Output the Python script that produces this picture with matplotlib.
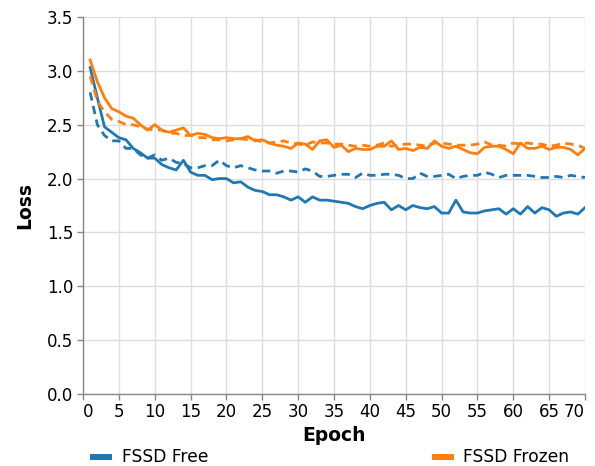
import matplotlib
matplotlib.use("Agg")
import matplotlib.pyplot as plt
import numpy as np

# epochs 1..70
epochs = list(range(1, 71))

free_train = [3.03, 2.75, 2.48, 2.43, 2.38, 2.36, 2.28, 2.24, 2.19, 2.19,
              2.13, 2.10, 2.08, 2.17, 2.06, 2.03, 2.03, 1.99, 2.00, 2.00,
              1.96, 1.97, 1.92, 1.89, 1.88, 1.85, 1.85, 1.83, 1.80, 1.83,
              1.78, 1.83, 1.80, 1.80, 1.79, 1.78, 1.77, 1.74, 1.72, 1.75,
              1.77, 1.78, 1.71, 1.75, 1.71, 1.75, 1.73, 1.72, 1.74, 1.68,
              1.68, 1.80, 1.69, 1.68, 1.68, 1.70, 1.71, 1.72, 1.67, 1.72,
              1.67, 1.74, 1.68, 1.73, 1.71, 1.65, 1.68, 1.69, 1.67, 1.73]

free_val = [2.80, 2.50, 2.40, 2.35, 2.35, 2.28, 2.28, 2.22, 2.19, 2.22,
            2.17, 2.19, 2.15, 2.14, 2.10, 2.10, 2.12, 2.12, 2.17, 2.12,
            2.10, 2.12, 2.10, 2.08, 2.07, 2.07, 2.05, 2.07, 2.07, 2.06,
            2.09, 2.07, 2.02, 2.02, 2.03, 2.04, 2.04, 2.01, 2.05, 2.03,
            2.03, 2.04, 2.04, 2.03, 2.00, 2.00, 2.05, 2.02, 2.02, 2.03,
            2.04, 2.00, 2.02, 2.03, 2.03, 2.06, 2.04, 2.01, 2.03, 2.03,
            2.03, 2.03, 2.02, 2.01, 2.01, 2.02, 2.01, 2.03, 2.02, 2.01]

frozen_train = [3.10, 2.90, 2.75, 2.65, 2.62, 2.58, 2.56, 2.50, 2.45, 2.50,
                2.45, 2.43, 2.45, 2.47, 2.40, 2.42, 2.41, 2.38, 2.37, 2.38,
                2.37, 2.37, 2.39, 2.35, 2.36, 2.33, 2.31, 2.30, 2.28, 2.33,
                2.32, 2.27, 2.35, 2.36, 2.29, 2.31, 2.25, 2.28, 2.27, 2.27,
                2.30, 2.30, 2.35, 2.27, 2.28, 2.26, 2.29, 2.28, 2.35, 2.30,
                2.28, 2.30, 2.27, 2.24, 2.23, 2.29, 2.30, 2.30, 2.27, 2.23,
                2.33, 2.28, 2.28, 2.30, 2.27, 2.29, 2.29, 2.27, 2.22, 2.28]

frozen_val = [2.95, 2.72, 2.62, 2.55, 2.53, 2.50, 2.50, 2.48, 2.46, 2.45,
              2.45, 2.42, 2.42, 2.40, 2.40, 2.38, 2.38, 2.36, 2.36, 2.35,
              2.36, 2.37, 2.36, 2.36, 2.34, 2.33, 2.34, 2.35, 2.33, 2.32,
              2.31, 2.34, 2.33, 2.33, 2.32, 2.32, 2.31, 2.30, 2.31, 2.30,
              2.31, 2.33, 2.30, 2.31, 2.32, 2.32, 2.31, 2.30, 2.33, 2.33,
              2.32, 2.31, 2.31, 2.31, 2.32, 2.34, 2.31, 2.31, 2.30, 2.33,
              2.32, 2.33, 2.32, 2.32, 2.30, 2.31, 2.33, 2.32, 2.31, 2.28]

azul = "#1f77b4"
naranja = "#ff7f0e"
gris = "#888888"

fig = plt.figure(figsize=(5.95, 4.66), dpi=100)
ax = fig.add_axes([83 / 595, 1 - 394 / 466, 502 / 595, 377 / 466])

ax.plot(epochs, free_train, '-', color=azul, linewidth=2, label="FSSD Free")
ax.plot(epochs, free_val, '--', color=azul, linewidth=2, dashes=(3, 2))
ax.plot(epochs, frozen_train, '-', color=naranja, linewidth=2, label="FSSD Frozen")
ax.plot(epochs, frozen_val, '--', color=naranja, linewidth=2, dashes=(3, 2))

ax.set_xlim(0, 70)
ax.set_ylim(0, 3.5)
ax.set_xticks(np.arange(0, 71, 5))
ax.set_yticks(np.arange(0, 3.51, 0.5))
ax.set_yticklabels([f"{v:.1f}" for v in np.arange(0, 3.51, 0.5)])
ax.grid(True, color="#dddddd", linewidth=1)
ax.set_axisbelow(True)

for s in ["top", "right"]:
    ax.spines[s].set_visible(False)
for s in ["left", "bottom"]:
    ax.spines[s].set_color(gris)
    ax.spines[s].set_linewidth(1)
ax.tick_params(colors=gris, labelcolor="black", labelsize=12, length=4.3, width=1, pad=2.5)

# etiquetas flush en los extremos como en el original
xl = ax.get_xticklabels()
xl[0].set_ha("left")
xl[-1].set_ha("right")

ax.set_xlabel("Epoch", fontsize=13.5, fontweight="bold", labelpad=3)
ax.set_ylabel("Loss", fontsize=13.5, fontweight="bold", labelpad=9)

fig.legend(loc="center left", bbox_to_anchor=(90 / 595, 1 - 457.5 / 466), ncol=2,
           frameon=False, fontsize=12.3, handlelength=1.3, columnspacing=13.1,
           handletextpad=0.55, borderaxespad=0, borderpad=0)
for h in fig.legends[0].get_lines():
    h.set_linewidth(4.3)
    h.set_solid_capstyle("butt")

plt.savefig("out.png", dpi=100)
plt.close('all')
